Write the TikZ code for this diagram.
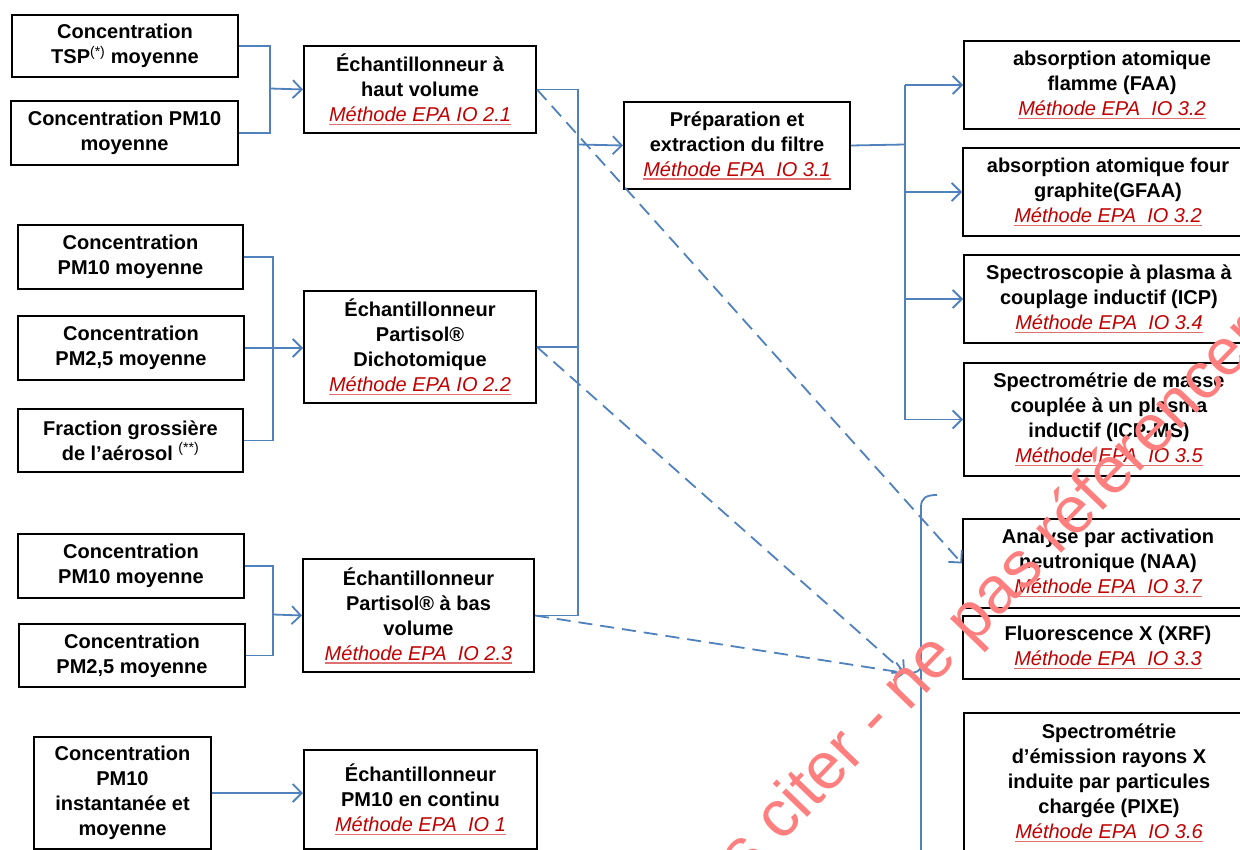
\documentclass[tikz,border=0pt]{standalone}
\usepackage{fontspec}
\setmainfont{Liberation Sans}
\usetikzlibrary{arrows.meta}
\definecolor{conn}{HTML}{4F81BD}
\definecolor{epared}{HTML}{C00000}
\definecolor{ulred}{HTML}{E07070}
\definecolor{wmred}{HTML}{FF7F7F}
\newlength\methw
\newcommand\meth[1]{\settowidth\methw{\mdseries\itshape #1}\mbox{\mdseries\itshape\color{ulred}\rlap{\rule[-3.5pt]{\methw}{1.4pt}}\color{epared}#1}}
\tikzset{
  box/.style={draw=black, line width=2pt, inner sep=0pt, anchor=north west, align=center,
    font=\bfseries\fontsize{20}{25}\selectfont},
  link/.style={draw=conn, line width=1.8pt},
  arr/.style={link, -{Straight Barb[length=9pt,width=18pt]}},
  darr/.style={arr, dash pattern=on 14pt off 8pt},
  wm/.style={text=wmred, font=\mdseries\fontsize{66}{70}\selectfont, inner sep=0pt}
}
\begin{document}
\begin{tikzpicture}[x=1pt,y=-1pt]
\useasboundingbox (0,0) rectangle (1240,850);
\clip (0,0) rectangle (1240,850);
\fill[white] (0,0) rectangle (1240,850);

% left inputs
\node[box, minimum width=226pt, minimum height=62pt] (tsp) at (11,14) {Concentration\\TSP\textsuperscript{\mdseries(*)} moyenne};
\node[box, minimum width=227pt, minimum height=64pt] (pm10a) at (10,100) {Concentration PM10\\moyenne};
\node[box, minimum width=225pt, minimum height=64pt] (pm10b) at (17,224) {Concentration\\PM10 moyenne};
\node[box, minimum width=226pt, minimum height=64pt] (pm25b) at (17,315) {Concentration\\PM2,5 moyenne};
\node[box, minimum width=225pt, minimum height=63pt] (frac) at (17,408) {Fraction grossière\\de l’aérosol \textsuperscript{\mdseries(**)}};
\node[box, minimum width=226pt, minimum height=64pt] (pm10c) at (17,533) {Concentration\\PM10 moyenne};
\node[box, minimum width=226pt, minimum height=63pt] (pm25c) at (18,623) {Concentration\\PM2,5 moyenne};
\node[box, minimum width=177pt, minimum height=112pt] (inst) at (33,736) {Concentration\\PM10\\instantanée et\\moyenne};

% samplers
\node[box, minimum width=232pt, minimum height=87pt] (hv) at (303,45) {Échantillonneur à\\haut volume\\\meth{Méthode EPA IO 2.1}};
\node[box, minimum width=232pt, minimum height=112pt] (dich) at (303,290) {Échantillonneur\\Partisol®\\Dichotomique\\\meth{Méthode EPA IO 2.2}};
\node[box, minimum width=231pt, minimum height=113pt] (bas) at (302,558) {Échantillonneur\\Partisol® à bas\\volume\\\meth{Méthode EPA~~IO 2.3}};
\node[box, minimum width=233pt, minimum height=99pt] (cont) at (303,749) {Échantillonneur\\PM10 en continu\\ \meth{Méthode EPA~~IO 1}};

% preparation
\node[box, minimum width=226pt, minimum height=87pt] (prep) at (623,101) {Préparation et\\extraction du filtre\\\meth{Méthode EPA~~IO 3.1}};

% analyses
\node[box, minimum width=296pt, minimum height=88pt] (faa) at (963,40) {absorption atomique\\flamme (FAA)\\\meth{Méthode EPA~~IO 3.2}};
\node[box, minimum width=290pt, minimum height=88pt] (gfaa) at (962,147) {absorption atomique four\\graphite(GFAA)\\\meth{Méthode EPA~~IO 3.2}};
\node[box, minimum width=290pt, minimum height=88pt] (icp) at (963,254) {Spectroscopie à plasma à\\couplage inductif (ICP)\\\meth{Méthode EPA~~IO 3.4}};
\node[box, minimum width=290pt, minimum height=113pt] (icpms) at (963,362) {Spectrométrie de masse\\couplée à un plasma\\inductif (ICP-MS)\\\meth{Méthode EPA~~IO 3.5}};
\node[box, minimum width=290pt, minimum height=89pt] (naa) at (962,518) {Analyse par activation\\neutronique (NAA)\\\meth{Méthode EPA~~IO 3.7}};
\node[box, minimum width=290pt, minimum height=63pt] (xrf) at (962,615) {Fluorescence X (XRF)\\\meth{Méthode EPA~~IO 3.3}};
\node[box, minimum width=290pt, minimum height=140pt] (pixe) at (963,712) {Spectrométrie\\d’émission rayons X\\induite par particules\\chargée (PIXE)\\\meth{Méthode EPA~~IO 3.6}};

% junctions
\coordinate (j1) at (270,88.5);
\coordinate (j2) at (273,347);
\coordinate (j3) at (273,614.5);
\coordinate (j4) at (578,144.5);
\coordinate (j5) at (905,144.5);
\coordinate (jb) at (905,673);

% group 1
\draw[link] (tsp.east) -| (j1) |- (pm10a.east);
\draw[arr] (j1) -- (hv.west);
% group 2
\draw[link] (pm10b.east) -| (j2) |- (frac.east);
\draw[arr] (pm25b.east) -- (pm25b.east -| dich.west);
% group 3
\draw[link] (pm10c.east) -| (j3) |- (pm25c.east);
\draw[arr] (j3) -- (bas.west);
% continuous
\draw[arr] (inst.east) -- (inst.east -| cont.west);
% samplers to preparation
\draw[link] (hv.east) -| (j4) |- (bas.east);
\draw[link] (dich.east) -- (dich.east -| j4);
\draw[arr] (j4) -- (prep.west);
% preparation to analyses
\draw[link] (prep.east) -- (j5);
\draw[link] (j5 |- faa.west) -- (j5 |- icpms.west);
\foreach \n in {faa,gfaa,icp,icpms} \draw[arr] (j5 |- \n.west) -- (\n.west);
% dashed direct paths
\draw[darr] (hv.east) -- (naa.west);
\draw[darr] (dich.east) -- (jb);
\draw[darr] (bas.east) -- (jb);
% brace
\draw[link] (937,495) .. controls (926,495) and (921,498) .. (921,507) -- (921,860);
\draw[link] (909,673) .. controls (916,673) and (921,671) .. (921,665);

% watermark
\node[wm, rotate=46, anchor=base west] (wmark) at (781,844) {\llap{Ne pas }citer - ne pas référencer};
\end{tikzpicture}
\end{document}
